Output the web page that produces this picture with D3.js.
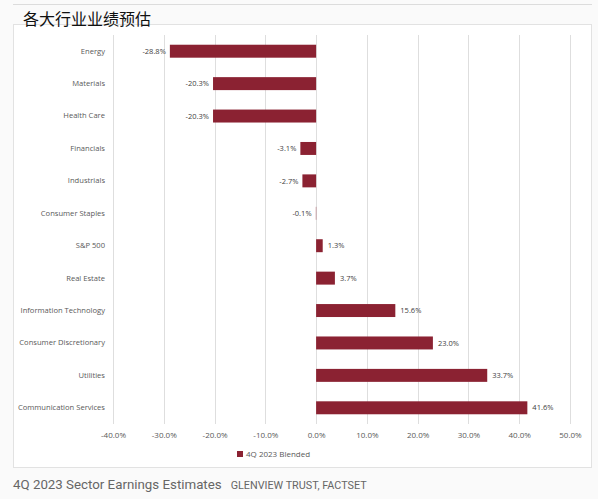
<!DOCTYPE html>
<html>
<head>
<meta charset="utf-8">
<title>4Q 2023 Sector Earnings Estimates</title>
<script src="https://d3js.org/d3.v7.min.js"></script>
<style>
  body { margin: 0; background: #fafafa; }
  text { font-family: "Open Sans", "Noto Sans", sans-serif; }
</style>
</head>
<body>
<script>
  var width = 598;
  var height = 499;

  var sectors = ["Energy", "Materials", "Health Care", "Financials", "Industrials",
    "Consumer Staples", "S&P 500", "Real Estate", "Information Technology",
    "Consumer Discretionary", "Utilities", "Communication Services"];
  var growth = [-28.8, -20.3, -20.3, -3.1, -2.7, -0.1, 1.3, 3.7, 15.6, 23.0, 33.7, 41.6];
  var xTicks = [-40, -30, -20, -10, 0, 10, 20, 30, 40, 50];
  var seriesName = "4Q 2023 Blended";

  var barColor = "#8b2232";

  // plain hyphen for negatives, like the original
  var pct = d3.formatLocale({decimal: ".", thousands: ",", grouping: [3], currency: ["", ""], minus: "-"})
    .format(".1f");

  var svg = d3.select("body").append("svg")
    .attr("width", width)
    .attr("height", height);

  // page background and frame
  svg.append("rect").attr("width", width).attr("height", height).attr("fill", "#fafafa");
  svg.append("line")
    .attr("x1", 13).attr("x2", 592).attr("y1", 4.5).attr("y2", 4.5)
    .attr("stroke", "#dcdcdc").attr("stroke-width", 1);
  svg.append("rect")
    .attr("x", 13.5).attr("y", 24.5).attr("width", 578).attr("height", 443)
    .attr("fill", "#ffffff").attr("stroke", "#e2e2e2");

  var xScale = d3.scaleLinear()
    .domain([-40, 50])
    .range([113, 570]);

  var yScale = d3.scaleBand()
    .domain(sectors)
    .range([35, 424])
    .paddingInner(0.6)
    .paddingOuter(0.3);

  // grid lines
  svg.append("g")
    .selectAll("line")
    .data(xTicks)
    .enter()
    .append("line")
      .attr("x1", function(d) { return Math.round(xScale(d)) + 0.5; })
      .attr("x2", function(d) { return Math.round(xScale(d)) + 0.5; })
      .attr("y1", 35)
      .attr("y2", 424)
      .attr("stroke", "#dedede")
      .attr("stroke-width", 1);

  // x axis labels
  var xAxis = svg.append("g")
    .attr("transform", "translate(0,424)")
    .call(d3.axisBottom(xScale).tickValues(xTicks).tickSize(0).tickPadding(8)
      .tickFormat(function(d) { return pct(d) + "%"; }));
  xAxis.select(".domain").remove();
  xAxis.selectAll("text")
    .attr("fill", "#595959")
    .style("font-size", "8px");

  // y axis labels
  var yAxis = svg.append("g")
    .attr("transform", "translate(105,0)")
    .call(d3.axisLeft(yScale).tickSize(0).tickPadding(0));
  yAxis.select(".domain").remove();
  yAxis.selectAll("text")
    .attr("fill", "#595959")
    .style("font-size", "7.6px");

  var rows = sectors.map(function(s, i) { return {name: s, value: growth[i]}; });

  svg.append("g")
    .selectAll("rect")
    .data(rows)
    .enter()
    .append("rect")
      .attr("x", function(d) { return xScale(Math.min(0, d.value)); })
      .attr("y", function(d) { return yScale(d.name); })
      .attr("width", function(d) { return Math.max(1, Math.abs(xScale(d.value) - xScale(0))); })
      .attr("height", yScale.bandwidth())
      .attr("fill", barColor)
      .attr("opacity", function(d) { return Math.abs(d.value) < 0.5 ? 0.35 : 1; });

  svg.append("g")
    .selectAll("text")
    .data(rows)
    .enter()
    .append("text")
      .attr("x", function(d) { return d.value < 0 ? xScale(d.value) - 4 : xScale(d.value) + 5; })
      .attr("y", function(d) { return yScale(d.name) + yScale.bandwidth() / 2; })
      .attr("dy", "0.35em")
      .attr("text-anchor", function(d) { return d.value < 0 ? "end" : "start"; })
      .attr("fill", "#404040")
      .style("font-size", "7.5px")
      .text(function(d) { return pct(d.value) + "%"; });

  // legend
  var legend = svg.append("g").attr("transform", "translate(237,451)");
  legend.append("rect").attr("width", 6).attr("height", 6).attr("fill", barColor);
  legend.append("text")
    .attr("x", 9).attr("y", 3).attr("dy", "0.35em")
    .attr("fill", "#595959")
    .style("font-size", "8px")
    .text(seriesName);

  // title
  svg.append("text")
    .attr("x", 23).attr("y", 25)
    .attr("fill", "#111")
    .style("font-family", "'Noto Sans CJK SC', sans-serif")
    .style("font-size", "16px")
    .text("各大行业业绩预估");

  // caption
  var caption = svg.append("text")
    .attr("x", 13).attr("y", 489)
    .attr("fill", "#666")
    .style("font-family", "Roboto, 'Open Sans', sans-serif");
  caption.append("tspan").style("font-size", "13.3px").text("4Q 2023 Sector Earnings Estimates");
  caption.append("tspan").attr("dx", 9).style("font-size", "10.8px").text("GLENVIEW TRUST, FACTSET");
</script>
</body>
</html>
